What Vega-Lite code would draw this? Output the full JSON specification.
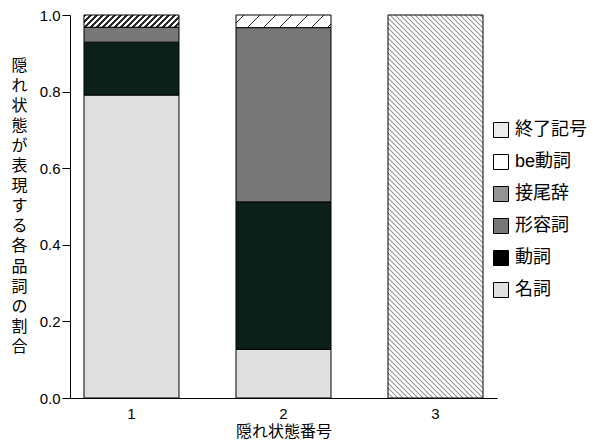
{
  "$schema": "https://vega.github.io/schema/vega-lite/v6.json",
  "width": 427,
  "height": 383,
  "autosize": "none",
  "padding": {"left": 70, "top": 15, "right": 96, "bottom": 50},
  "background": "white",
  "config": {"view": {"stroke": null}, "font": "Liberation Sans, Noto Sans CJK JP"},
  "data": {"values": [
    {"state": "1", "pos": "名詞", "ratio": 0.791},
    {"state": "1", "pos": "動詞", "ratio": 0.138},
    {"state": "1", "pos": "形容詞", "ratio": 0.039},
    {"state": "1", "pos": "接尾辞", "ratio": 0.032},
    {"state": "2", "pos": "名詞", "ratio": 0.127},
    {"state": "2", "pos": "動詞", "ratio": 0.385},
    {"state": "2", "pos": "形容詞", "ratio": 0.455},
    {"state": "2", "pos": "be動詞", "ratio": 0.033},
    {"state": "3", "pos": "終了記号", "ratio": 1.0}
  ]},
  "transform": [
    {"calculate": "indexof(['名詞','動詞','形容詞','接尾辞','be動詞','終了記号'], datum.pos)", "as": "stackOrder"}
  ],
  "mark": {"type": "bar", "stroke": "black", "strokeWidth": 1},
  "encoding": {
    "x": {
      "field": "state", "type": "nominal",
      "scale": {"paddingInner": 0.375, "paddingOuter": 0.092},
      "axis": {
        "title": "隠れ状態番号", "labelAngle": 0, "ticks": false, "labelPadding": 8,
        "labelFontSize": 15, "labelColor": "black", "labelFont": "Liberation Sans",
        "titleFontSize": 16, "titleColor": "black", "titleFontWeight": "normal",
        "titleFont": "Noto Sans CJK JP", "titlePadding": 2,
        "domainColor": "black", "domainWidth": 1
      }
    },
    "y": {
      "field": "ratio", "type": "quantitative", "stack": "zero",
      "scale": {"domain": [0, 1], "nice": false},
      "axis": {
        "title": ["隠","れ","状","態","が","表","現","す","る","各","品","詞","の","割","合"],
        "values": [0, 0.2, 0.4, 0.6, 0.8, 1.0], "format": ".1f", "grid": false,
        "tickSize": 8, "tickColor": "black", "domainColor": "black", "domainWidth": 1,
        "labelPadding": 2, "labelFontSize": 15, "labelColor": "black", "labelFont": "Liberation Sans",
        "titleAngle": 0, "titleX": -51, "titleY": 50, "titleFontSize": 16,
        "titleLineHeight": 20.1, "titleAlign": "center", "titleBaseline": "middle",
        "titleFontWeight": "normal", "titleColor": "black", "titleFont": "Noto Sans CJK JP"
      }
    },
    "order": {"field": "stackOrder", "type": "quantitative"},
    "fill": {
      "field": "pos", "type": "nominal",
      "scale": {
        "domain": ["終了記号", "be動詞", "接尾辞", "形容詞", "動詞", "名詞"],
        "range": ["#ececec", "#ffffff", "#959595", "#777777", "#000000", "#e0e0e0"]
      },
      "condition": [
        {"test": "datum.pos === '動詞'", "value": "#0c2019"},
        {"test": "datum.pos === '接尾辞'", "value": {"gradient": "linear", "x1": 0, "y1": 0, "x2": 1.2425, "y2": 0.1603, "stops": [
          {"offset":0,"color":"#2b2b2b"},{"offset":0.025,"color":"#2b2b2b"},{"offset":0.025,"color":"#fff"},{"offset":0.05,"color":"#fff"},
          {"offset":0.05,"color":"#2b2b2b"},{"offset":0.075,"color":"#2b2b2b"},{"offset":0.075,"color":"#fff"},{"offset":0.1,"color":"#fff"},
          {"offset":0.1,"color":"#2b2b2b"},{"offset":0.125,"color":"#2b2b2b"},{"offset":0.125,"color":"#fff"},{"offset":0.15,"color":"#fff"},
          {"offset":0.15,"color":"#2b2b2b"},{"offset":0.175,"color":"#2b2b2b"},{"offset":0.175,"color":"#fff"},{"offset":0.2,"color":"#fff"},
          {"offset":0.2,"color":"#2b2b2b"},{"offset":0.225,"color":"#2b2b2b"},{"offset":0.225,"color":"#fff"},{"offset":0.25,"color":"#fff"},
          {"offset":0.25,"color":"#2b2b2b"},{"offset":0.275,"color":"#2b2b2b"},{"offset":0.275,"color":"#fff"},{"offset":0.3,"color":"#fff"},
          {"offset":0.3,"color":"#2b2b2b"},{"offset":0.325,"color":"#2b2b2b"},{"offset":0.325,"color":"#fff"},{"offset":0.35,"color":"#fff"},
          {"offset":0.35,"color":"#2b2b2b"},{"offset":0.375,"color":"#2b2b2b"},{"offset":0.375,"color":"#fff"},{"offset":0.4,"color":"#fff"},
          {"offset":0.4,"color":"#2b2b2b"},{"offset":0.425,"color":"#2b2b2b"},{"offset":0.425,"color":"#fff"},{"offset":0.45,"color":"#fff"},
          {"offset":0.45,"color":"#2b2b2b"},{"offset":0.475,"color":"#2b2b2b"},{"offset":0.475,"color":"#fff"},{"offset":0.5,"color":"#fff"},
          {"offset":0.5,"color":"#2b2b2b"},{"offset":0.525,"color":"#2b2b2b"},{"offset":0.525,"color":"#fff"},{"offset":0.55,"color":"#fff"},
          {"offset":0.55,"color":"#2b2b2b"},{"offset":0.575,"color":"#2b2b2b"},{"offset":0.575,"color":"#fff"},{"offset":0.6,"color":"#fff"},
          {"offset":0.6,"color":"#2b2b2b"},{"offset":0.625,"color":"#2b2b2b"},{"offset":0.625,"color":"#fff"},{"offset":0.65,"color":"#fff"},
          {"offset":0.65,"color":"#2b2b2b"},{"offset":0.675,"color":"#2b2b2b"},{"offset":0.675,"color":"#fff"},{"offset":0.7,"color":"#fff"},
          {"offset":0.7,"color":"#2b2b2b"},{"offset":0.725,"color":"#2b2b2b"},{"offset":0.725,"color":"#fff"},{"offset":0.75,"color":"#fff"},
          {"offset":0.75,"color":"#2b2b2b"},{"offset":0.775,"color":"#2b2b2b"},{"offset":0.775,"color":"#fff"},{"offset":0.8,"color":"#fff"},
          {"offset":0.8,"color":"#2b2b2b"},{"offset":0.825,"color":"#2b2b2b"},{"offset":0.825,"color":"#fff"},{"offset":0.85,"color":"#fff"},
          {"offset":0.85,"color":"#2b2b2b"},{"offset":0.875,"color":"#2b2b2b"},{"offset":0.875,"color":"#fff"},{"offset":0.9,"color":"#fff"},
          {"offset":1,"color":"#fff"}
        ]}},
        {"test": "datum.pos === 'be動詞'", "value": {"gradient": "linear", "x1": 0, "y1": 0, "x2": 1.3239, "y2": 0.1762, "stops": [
          {"offset":0,"color":"#fff"},
          {"offset":0.0565,"color":"#fff"},{"offset":0.0565,"color":"#222"},{"offset":0.0685,"color":"#222"},{"offset":0.0685,"color":"#fff"},
          {"offset":0.1815,"color":"#fff"},{"offset":0.1815,"color":"#222"},{"offset":0.1935,"color":"#222"},{"offset":0.1935,"color":"#fff"},
          {"offset":0.3065,"color":"#fff"},{"offset":0.3065,"color":"#222"},{"offset":0.3185,"color":"#222"},{"offset":0.3185,"color":"#fff"},
          {"offset":0.4315,"color":"#fff"},{"offset":0.4315,"color":"#222"},{"offset":0.4435,"color":"#222"},{"offset":0.4435,"color":"#fff"},
          {"offset":0.5565,"color":"#fff"},{"offset":0.5565,"color":"#222"},{"offset":0.5685,"color":"#222"},{"offset":0.5685,"color":"#fff"},
          {"offset":0.6815,"color":"#fff"},{"offset":0.6815,"color":"#222"},{"offset":0.6935,"color":"#222"},{"offset":0.6935,"color":"#fff"},
          {"offset":0.8065,"color":"#fff"},{"offset":0.8065,"color":"#222"},{"offset":0.8185,"color":"#222"},{"offset":0.8185,"color":"#fff"},
          {"offset":1,"color":"#fff"}
        ]}},
        {"test": "datum.pos === '終了記号'", "value": {"gradient": "linear", "x1": 0, "y1": 1, "x2": 0.30505, "y2": -0.22983, "stops": [
          {"offset":0,"color":"#909090"},{"offset":0.0025,"color":"#fff"},{"offset":0.0075,"color":"#fff"},
          {"offset":0.01,"color":"#909090"},{"offset":0.0125,"color":"#fff"},{"offset":0.0175,"color":"#fff"},
          {"offset":0.02,"color":"#909090"},{"offset":0.0225,"color":"#fff"},{"offset":0.0275,"color":"#fff"},
          {"offset":0.03,"color":"#909090"},{"offset":0.0325,"color":"#fff"},{"offset":0.0375,"color":"#fff"},
          {"offset":0.04,"color":"#909090"},{"offset":0.0425,"color":"#fff"},{"offset":0.0475,"color":"#fff"},
          {"offset":0.05,"color":"#909090"},{"offset":0.0525,"color":"#fff"},{"offset":0.0575,"color":"#fff"},
          {"offset":0.06,"color":"#909090"},{"offset":0.0625,"color":"#fff"},{"offset":0.0675,"color":"#fff"},
          {"offset":0.07,"color":"#909090"},{"offset":0.0725,"color":"#fff"},{"offset":0.0775,"color":"#fff"},
          {"offset":0.08,"color":"#909090"},{"offset":0.0825,"color":"#fff"},{"offset":0.0875,"color":"#fff"},
          {"offset":0.09,"color":"#909090"},{"offset":0.0925,"color":"#fff"},{"offset":0.0975,"color":"#fff"},
          {"offset":0.10,"color":"#909090"},{"offset":0.1025,"color":"#fff"},{"offset":0.1075,"color":"#fff"},
          {"offset":0.11,"color":"#909090"},{"offset":0.1125,"color":"#fff"},{"offset":0.1175,"color":"#fff"},
          {"offset":0.12,"color":"#909090"},{"offset":0.1225,"color":"#fff"},{"offset":0.1275,"color":"#fff"},
          {"offset":0.13,"color":"#909090"},{"offset":0.1325,"color":"#fff"},{"offset":0.1375,"color":"#fff"},
          {"offset":0.14,"color":"#909090"},{"offset":0.1425,"color":"#fff"},{"offset":0.1475,"color":"#fff"},
          {"offset":0.15,"color":"#909090"},{"offset":0.1525,"color":"#fff"},{"offset":0.1575,"color":"#fff"},
          {"offset":0.16,"color":"#909090"},{"offset":0.1625,"color":"#fff"},{"offset":0.1675,"color":"#fff"},
          {"offset":0.17,"color":"#909090"},{"offset":0.1725,"color":"#fff"},{"offset":0.1775,"color":"#fff"},
          {"offset":0.18,"color":"#909090"},{"offset":0.1825,"color":"#fff"},{"offset":0.1875,"color":"#fff"},
          {"offset":0.19,"color":"#909090"},{"offset":0.1925,"color":"#fff"},{"offset":0.1975,"color":"#fff"},
          {"offset":0.20,"color":"#909090"},{"offset":0.2025,"color":"#fff"},{"offset":0.2075,"color":"#fff"},
          {"offset":0.21,"color":"#909090"},{"offset":0.2125,"color":"#fff"},{"offset":0.2175,"color":"#fff"},
          {"offset":0.22,"color":"#909090"},{"offset":0.2225,"color":"#fff"},{"offset":0.2275,"color":"#fff"},
          {"offset":0.23,"color":"#909090"},{"offset":0.2325,"color":"#fff"},{"offset":0.2375,"color":"#fff"},
          {"offset":0.24,"color":"#909090"},{"offset":0.2425,"color":"#fff"},{"offset":0.2475,"color":"#fff"},
          {"offset":0.25,"color":"#909090"},{"offset":0.2525,"color":"#fff"},{"offset":0.2575,"color":"#fff"},
          {"offset":0.26,"color":"#909090"},{"offset":0.2625,"color":"#fff"},{"offset":0.2675,"color":"#fff"},
          {"offset":0.27,"color":"#909090"},{"offset":0.2725,"color":"#fff"},{"offset":0.2775,"color":"#fff"},
          {"offset":0.28,"color":"#909090"},{"offset":0.2825,"color":"#fff"},{"offset":0.2875,"color":"#fff"},
          {"offset":0.29,"color":"#909090"},{"offset":0.2925,"color":"#fff"},{"offset":0.2975,"color":"#fff"},
          {"offset":0.30,"color":"#909090"},{"offset":0.3025,"color":"#fff"},{"offset":0.3075,"color":"#fff"},
          {"offset":0.31,"color":"#909090"},{"offset":0.3125,"color":"#fff"},{"offset":0.3175,"color":"#fff"},
          {"offset":0.32,"color":"#909090"},{"offset":0.3225,"color":"#fff"},{"offset":0.3275,"color":"#fff"},
          {"offset":0.33,"color":"#909090"},{"offset":0.3325,"color":"#fff"},{"offset":0.3375,"color":"#fff"},
          {"offset":0.34,"color":"#909090"},{"offset":0.3425,"color":"#fff"},{"offset":0.3475,"color":"#fff"},
          {"offset":0.35,"color":"#909090"},{"offset":0.3525,"color":"#fff"},{"offset":0.3575,"color":"#fff"},
          {"offset":0.36,"color":"#909090"},{"offset":0.3625,"color":"#fff"},{"offset":0.3675,"color":"#fff"},
          {"offset":0.37,"color":"#909090"},{"offset":0.3725,"color":"#fff"},{"offset":0.3775,"color":"#fff"},
          {"offset":0.38,"color":"#909090"},{"offset":0.3825,"color":"#fff"},{"offset":0.3875,"color":"#fff"},
          {"offset":0.39,"color":"#909090"},{"offset":0.3925,"color":"#fff"},{"offset":0.3975,"color":"#fff"},
          {"offset":0.40,"color":"#909090"},{"offset":0.4025,"color":"#fff"},{"offset":0.4075,"color":"#fff"},
          {"offset":0.41,"color":"#909090"},{"offset":0.4125,"color":"#fff"},{"offset":0.4175,"color":"#fff"},
          {"offset":0.42,"color":"#909090"},{"offset":0.4225,"color":"#fff"},{"offset":0.4275,"color":"#fff"},
          {"offset":0.43,"color":"#909090"},{"offset":0.4325,"color":"#fff"},{"offset":0.4375,"color":"#fff"},
          {"offset":0.44,"color":"#909090"},{"offset":0.4425,"color":"#fff"},{"offset":0.4475,"color":"#fff"},
          {"offset":0.45,"color":"#909090"},{"offset":0.4525,"color":"#fff"},{"offset":0.4575,"color":"#fff"},
          {"offset":0.46,"color":"#909090"},{"offset":0.4625,"color":"#fff"},{"offset":0.4675,"color":"#fff"},
          {"offset":0.47,"color":"#909090"},{"offset":0.4725,"color":"#fff"},{"offset":0.4775,"color":"#fff"},
          {"offset":0.48,"color":"#909090"},{"offset":0.4825,"color":"#fff"},{"offset":0.4875,"color":"#fff"},
          {"offset":0.49,"color":"#909090"},{"offset":0.4925,"color":"#fff"},{"offset":0.4975,"color":"#fff"},
          {"offset":0.50,"color":"#909090"},{"offset":0.5025,"color":"#fff"},{"offset":0.5075,"color":"#fff"},
          {"offset":0.51,"color":"#909090"},{"offset":0.5125,"color":"#fff"},{"offset":0.5175,"color":"#fff"},
          {"offset":0.52,"color":"#909090"},{"offset":0.5225,"color":"#fff"},{"offset":0.5275,"color":"#fff"},
          {"offset":0.53,"color":"#909090"},{"offset":0.5325,"color":"#fff"},{"offset":0.5375,"color":"#fff"},
          {"offset":0.54,"color":"#909090"},{"offset":0.5425,"color":"#fff"},{"offset":0.5475,"color":"#fff"},
          {"offset":0.55,"color":"#909090"},{"offset":0.5525,"color":"#fff"},{"offset":0.5575,"color":"#fff"},
          {"offset":0.56,"color":"#909090"},{"offset":0.5625,"color":"#fff"},{"offset":0.5675,"color":"#fff"},
          {"offset":0.57,"color":"#909090"},{"offset":0.5725,"color":"#fff"},{"offset":0.5775,"color":"#fff"},
          {"offset":0.58,"color":"#909090"},{"offset":0.5825,"color":"#fff"},{"offset":0.5875,"color":"#fff"},
          {"offset":0.59,"color":"#909090"},{"offset":0.5925,"color":"#fff"},{"offset":0.5975,"color":"#fff"},
          {"offset":0.60,"color":"#909090"},{"offset":0.6025,"color":"#fff"},{"offset":0.6075,"color":"#fff"},
          {"offset":0.61,"color":"#909090"},{"offset":0.6125,"color":"#fff"},{"offset":0.6175,"color":"#fff"},
          {"offset":0.62,"color":"#909090"},{"offset":0.6225,"color":"#fff"},{"offset":0.6275,"color":"#fff"},
          {"offset":0.63,"color":"#909090"},{"offset":0.6325,"color":"#fff"},{"offset":0.6375,"color":"#fff"},
          {"offset":0.64,"color":"#909090"},{"offset":0.6425,"color":"#fff"},{"offset":0.6475,"color":"#fff"},
          {"offset":0.65,"color":"#909090"},{"offset":0.6525,"color":"#fff"},{"offset":0.6575,"color":"#fff"},
          {"offset":0.66,"color":"#909090"},{"offset":0.6625,"color":"#fff"},{"offset":0.6675,"color":"#fff"},
          {"offset":0.67,"color":"#909090"},{"offset":0.6725,"color":"#fff"},{"offset":0.6775,"color":"#fff"},
          {"offset":0.68,"color":"#909090"},{"offset":0.6825,"color":"#fff"},{"offset":0.6875,"color":"#fff"},
          {"offset":0.69,"color":"#909090"},{"offset":0.6925,"color":"#fff"},{"offset":0.6975,"color":"#fff"},
          {"offset":0.70,"color":"#909090"},{"offset":0.7025,"color":"#fff"},{"offset":0.7075,"color":"#fff"},
          {"offset":0.71,"color":"#909090"},{"offset":0.7125,"color":"#fff"},{"offset":0.7175,"color":"#fff"},
          {"offset":0.72,"color":"#909090"},{"offset":0.7225,"color":"#fff"},{"offset":0.7275,"color":"#fff"},
          {"offset":0.73,"color":"#909090"},{"offset":0.7325,"color":"#fff"},{"offset":0.7375,"color":"#fff"},
          {"offset":0.74,"color":"#909090"},{"offset":0.7425,"color":"#fff"},{"offset":0.7475,"color":"#fff"},
          {"offset":0.75,"color":"#909090"},{"offset":0.7525,"color":"#fff"},{"offset":0.7575,"color":"#fff"},
          {"offset":0.76,"color":"#909090"},{"offset":0.7625,"color":"#fff"},{"offset":0.7675,"color":"#fff"},
          {"offset":0.77,"color":"#909090"},{"offset":0.7725,"color":"#fff"},{"offset":0.7775,"color":"#fff"},
          {"offset":0.78,"color":"#909090"},{"offset":0.7825,"color":"#fff"},{"offset":0.7875,"color":"#fff"},
          {"offset":0.79,"color":"#909090"},{"offset":0.7925,"color":"#fff"},{"offset":0.7975,"color":"#fff"},
          {"offset":0.80,"color":"#909090"},{"offset":0.8025,"color":"#fff"},{"offset":0.8075,"color":"#fff"},
          {"offset":0.81,"color":"#909090"},{"offset":0.8125,"color":"#fff"},{"offset":0.8175,"color":"#fff"},
          {"offset":0.82,"color":"#909090"},{"offset":0.8225,"color":"#fff"},{"offset":0.8275,"color":"#fff"},
          {"offset":0.83,"color":"#909090"},{"offset":0.8325,"color":"#fff"},{"offset":0.8375,"color":"#fff"},
          {"offset":0.84,"color":"#909090"},{"offset":0.8425,"color":"#fff"},{"offset":0.8475,"color":"#fff"},
          {"offset":0.85,"color":"#909090"},{"offset":0.8525,"color":"#fff"},{"offset":0.8575,"color":"#fff"},
          {"offset":0.86,"color":"#909090"},{"offset":0.8625,"color":"#fff"},{"offset":0.8675,"color":"#fff"},
          {"offset":0.87,"color":"#909090"},{"offset":0.8725,"color":"#fff"},{"offset":0.8775,"color":"#fff"},
          {"offset":0.88,"color":"#909090"},{"offset":0.8825,"color":"#fff"},{"offset":0.8875,"color":"#fff"},
          {"offset":0.89,"color":"#909090"},{"offset":0.8925,"color":"#fff"},{"offset":0.8975,"color":"#fff"},
          {"offset":0.90,"color":"#909090"},{"offset":0.9025,"color":"#fff"},{"offset":0.9075,"color":"#fff"},
          {"offset":0.91,"color":"#909090"},{"offset":0.9125,"color":"#fff"},{"offset":0.9175,"color":"#fff"},
          {"offset":0.92,"color":"#909090"},{"offset":0.9225,"color":"#fff"},{"offset":0.9275,"color":"#fff"},
          {"offset":0.93,"color":"#909090"},{"offset":0.9325,"color":"#fff"},{"offset":0.9375,"color":"#fff"},
          {"offset":0.94,"color":"#909090"},{"offset":0.9425,"color":"#fff"},{"offset":0.9475,"color":"#fff"},
          {"offset":0.95,"color":"#909090"},{"offset":0.9525,"color":"#fff"},{"offset":0.9575,"color":"#fff"},
          {"offset":0.96,"color":"#909090"},{"offset":0.9625,"color":"#fff"},{"offset":1,"color":"#fff"}
        ]}}
      ],
      "legend": {
        "title": null, "orient": "none", "legendX": 422, "legendY": 106,
        "symbolType": "square", "symbolSize": 225, "symbolStrokeColor": "black", "symbolStrokeWidth": 1,
        "labelFontSize": 18, "labelFont": "Liberation Sans, Noto Sans CJK JP", "labelColor": "black",
        "rowPadding": 12, "labelOffset": 5, "padding": 0
      }
    }
  }
}
